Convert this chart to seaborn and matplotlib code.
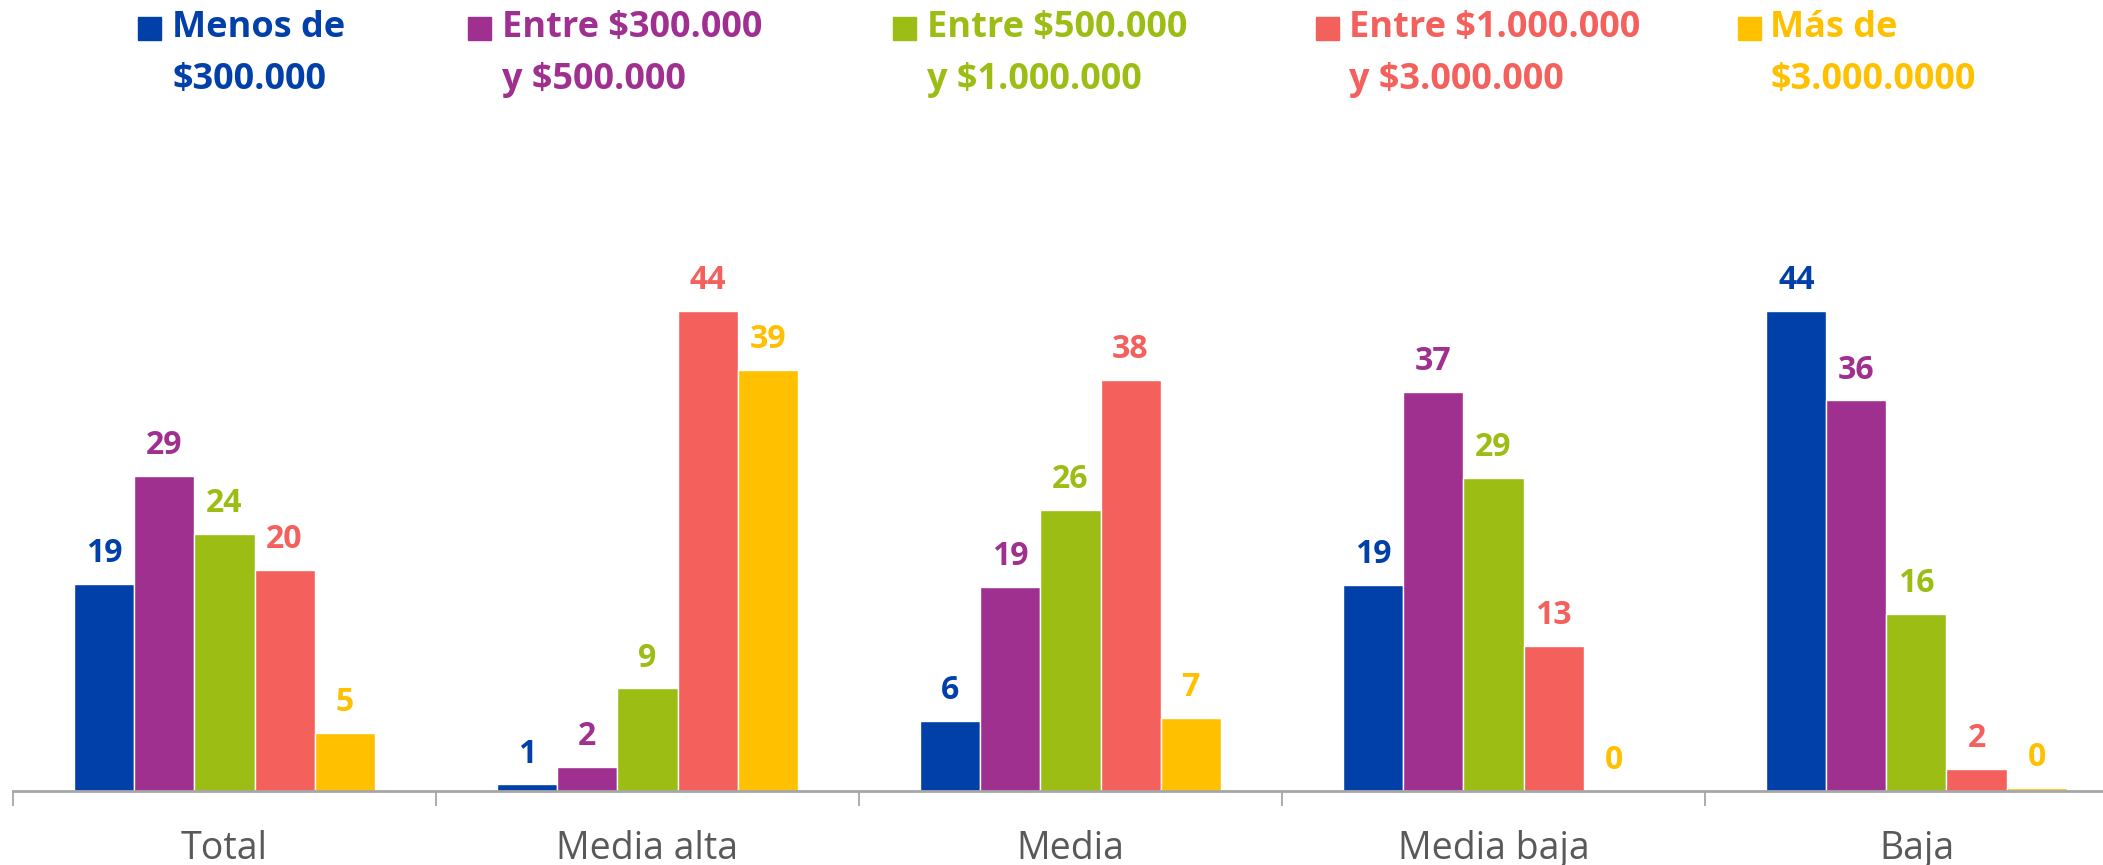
import numpy as np
import pandas as pd
import matplotlib.pyplot as plt
import seaborn as sns
from matplotlib.patches import Rectangle

# --- data ---
categories = ['Total', 'Media alta', 'Media', 'Media baja', 'Baja']
series = ['Menos de $300.000', 'Entre $300.000 y $500.000', 'Entre $500.000 y $1.000.000',
          'Entre $1.000.000 y $3.000.000', 'Más de $3.000.0000']
legend_lines = [('Menos de', '$300.000'), ('Entre $300.000', 'y $500.000'),
                ('Entre $500.000', 'y $1.000.000'), ('Entre $1.000.000', 'y $3.000.000'),
                ('Más de', '$3.000.0000')]
menos_300 = [19.0, 0.6, 6.4, 18.9, 44.0]
entre_300_500 = [28.9, 2.2, 18.7, 36.6, 35.8]
entre_500_1m = [23.6, 9.4, 25.8, 28.7, 16.2]
entre_1m_3m = [20.3, 44.0, 37.7, 13.3, 2.0]
mas_3m = [5.3, 38.6, 6.7, 0.0, 0.25]
colors = ['#0040A8', '#A03090', '#9CBD14', '#F4605C', '#FFC000']

values = [menos_300, entre_300_500, entre_500_1m, entre_1m_3m, mas_3m]
df = pd.DataFrame([
    {'Estrato': c, 'Rango': s, 'Valor': v}
    for s, vals in zip(series, values)
    for c, v in zip(categories, vals)
])

W, H = 2103, 865
sns.set_style('white')
plt.rcParams['font.family'] = ['Open Sans', 'DejaVu Sans']

fig = plt.figure(figsize=(W / 100, H / 100), dpi=100)
ax = fig.add_axes([13 / W, 74 / H, 1 - 13 / W, 791 / H])

sns.barplot(data=df, x='Estrato', y='Valor', hue='Rango', order=categories,
            hue_order=series, palette=colors, width=0.71, saturation=1,
            legend=False, ax=ax)

for cont, col in zip(ax.containers, colors):
    labels = [f'{v:.0f}' for v in cont.datavalues]
    ax.bar_label(cont, labels=labels, padding=10, color=col,
                 fontsize=23, fontweight='bold')

ax.set_xlim(-0.5, 4.441)
ax.set_ylim(0, 72.5)
ax.set_xlabel('')
ax.set_ylabel('')
ax.set_yticks([])
for side in ['top', 'right', 'left']:
    ax.spines[side].set_visible(False)
ax.spines['bottom'].set_color('#A6A6A6')
ax.spines['bottom'].set_linewidth(2)

ax.set_xticks(range(len(categories)))
ax.set_xticklabels(categories, fontsize=27, color='#595959')
ax.tick_params(axis='x', which='major', bottom=True, length=0, pad=28)
ax.set_xticks([-0.5, 0.5, 1.5, 2.5, 3.5], minor=True)
ax.tick_params(axis='x', which='minor', bottom=True, length=11, width=1.3,
               color='#A6A6A6', direction='out')

# --- legend drawn at the top ---
sq_x = [138, 468, 893, 1316, 1738]
txt_x = [172, 502, 927, 1349, 1770]
for (l1, l2), col, sx, tx in zip(legend_lines, colors, sq_x, txt_x):
    fig.add_artist(Rectangle((sx / W, 1 - 40 / H), 23 / W, 23 / H,
                             transform=fig.transFigure, color=col))
    fig.text(tx / W, 1 - 28 / H, l1, color=col, fontsize=26, fontweight='bold', va='center')
    fig.text(tx / W, 1 - 80 / H, l2, color=col, fontsize=26, fontweight='bold', va='center')

fig.savefig('out.png', dpi=100)
